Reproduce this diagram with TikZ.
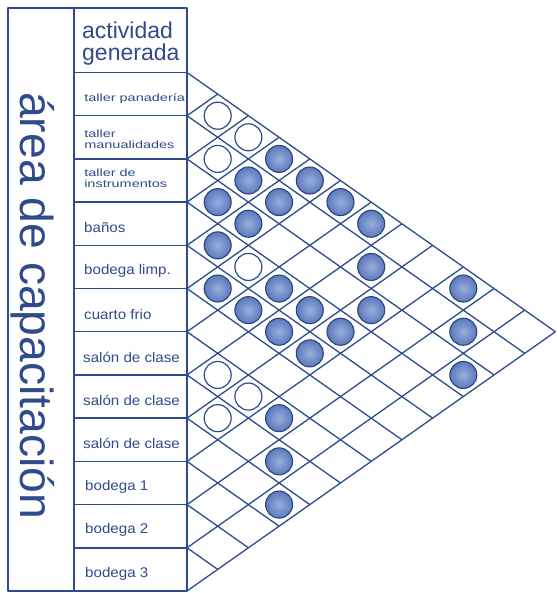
\documentclass[tikz,border=0pt]{standalone}
\usepackage{fontspec}
\setmainfont{Liberation Sans}
\definecolor{ln}{HTML}{2D4C8E}
\definecolor{tx}{HTML}{2F4B8B}
\definecolor{fin}{HTML}{98AEDE}
\definecolor{fout}{HTML}{5C79BB}
\tikzset{
  frame/.style={draw=ln, line width=1.5pt},
  gridline/.style={draw=ln, line width=1.3pt},
  opencirc/.style={circle, draw=ln, line width=1.2pt, minimum size=27pt, inner sep=0pt, fill=white},
  fullcirc/.style={circle, draw=ln!90!black, line width=1.1pt, minimum size=27pt, inner sep=0pt, inner color=fin, outer color=fout},
  biglab/.style={text=tx, inner sep=0pt, font=\fontsize{14}{14}\selectfont, anchor=west, xscale=1.08},
  smalllab/.style={text=tx, inner sep=0pt, font=\fontsize{10.5}{11}\selectfont, anchor=west, align=left, xscale=1.38},
}
\begin{document}
\begin{tikzpicture}[x=1pt,y=-1pt,line join=round]
\useasboundingbox (0,0) rectangle (556,593);
\def\bz{72.5}
\def\st{43.208}
\def\xl{187}
\def\hw{30.7}
% frames
\draw[frame] (8,8) rectangle (\xl,591);
\draw[frame] (74,8) -- (74,591);
\foreach \k in {0,...,11}{
  \draw[frame] (74,{\bz+\st*\k}) -- (\xl,{\bz+\st*\k});
}
% diagonal grid
\foreach \k in {0,...,12}{
  \coordinate (b\k) at (\xl,{\bz+\st*\k});
  \coordinate (d\k) at ({\xl+(12-\k)*\hw},{\bz+\st*(12+\k)/2});
  \coordinate (u\k) at ({\xl+\k*\hw},{\bz+\st*\k/2});
  \draw[gridline] (b\k) -- (d\k);
  \draw[gridline] (b\k) -- (u\k);
}
% circles
\foreach \i/\j in {0/1,0/2,1/2,3/5,6/7,6/8,7/8}{
  \node[opencirc] (c-\i-\j) at ({\xl+(\j-\i)*\hw},{\bz+\st*((\i+\j)/2+0.5)}) {};
}
\foreach \i/\j in {0/3,1/3,0/4,2/3,1/4,0/5,2/4,0/6,3/4,1/7,4/5,3/6,0/9,4/6,3/7,2/8,4/7,3/8,4/8,1/10,2/11,6/9,7/10,8/11}{
  \node[fullcirc] (c-\i-\j) at ({\xl+(\j-\i)*\hw},{\bz+\st*((\i+\j)/2+0.5)}) {};
}
% texts
\node[rotate=-90, anchor=base west, inner sep=0pt, text=tx, font=\fontsize{46.3}{46}\selectfont] (area) at (20,92) {área de capacitación};
\node[anchor=north west, inner sep=0pt, text=tx, align=left, font=\fontsize{23}{22}\selectfont] (act) at (82,22) {actividad\\generada};
\node[smalllab] (r0) at (84,{\bz+\st*0.5+5}) {taller panadería};
\node[smalllab] (r1) at (84,{\bz+\st*1.5+2}) {taller\\manualidades};
\node[smalllab] (r2) at (84,{\bz+\st*2.5-2}) {taller de\\instrumentos};
\node[biglab] (r3) at (84,{\bz+\st*3.5+4}) {baños};
\node[biglab] (r4) at (84,{\bz+\st*4.5+4}) {bodega limp.};
\node[biglab] (r5) at (84,{\bz+\st*5.5+4}) {cuarto frio};
\node[biglab] (r6) at (83,{\bz+\st*6.5+4}) {salón de clase};
\node[biglab] (r7) at (83,{\bz+\st*7.5+4}) {salón de clase};
\node[biglab] (r8) at (83,{\bz+\st*8.5+4}) {salón de clase};
\node[biglab] (r9) at (85,{\bz+\st*9.5+4}) {bodega 1};
\node[biglab] (r10) at (85,{\bz+\st*10.5+4}) {bodega 2};
\node[biglab] (r11) at (85,{\bz+\st*11.5+4}) {bodega 3};
\end{tikzpicture}
\end{document}
